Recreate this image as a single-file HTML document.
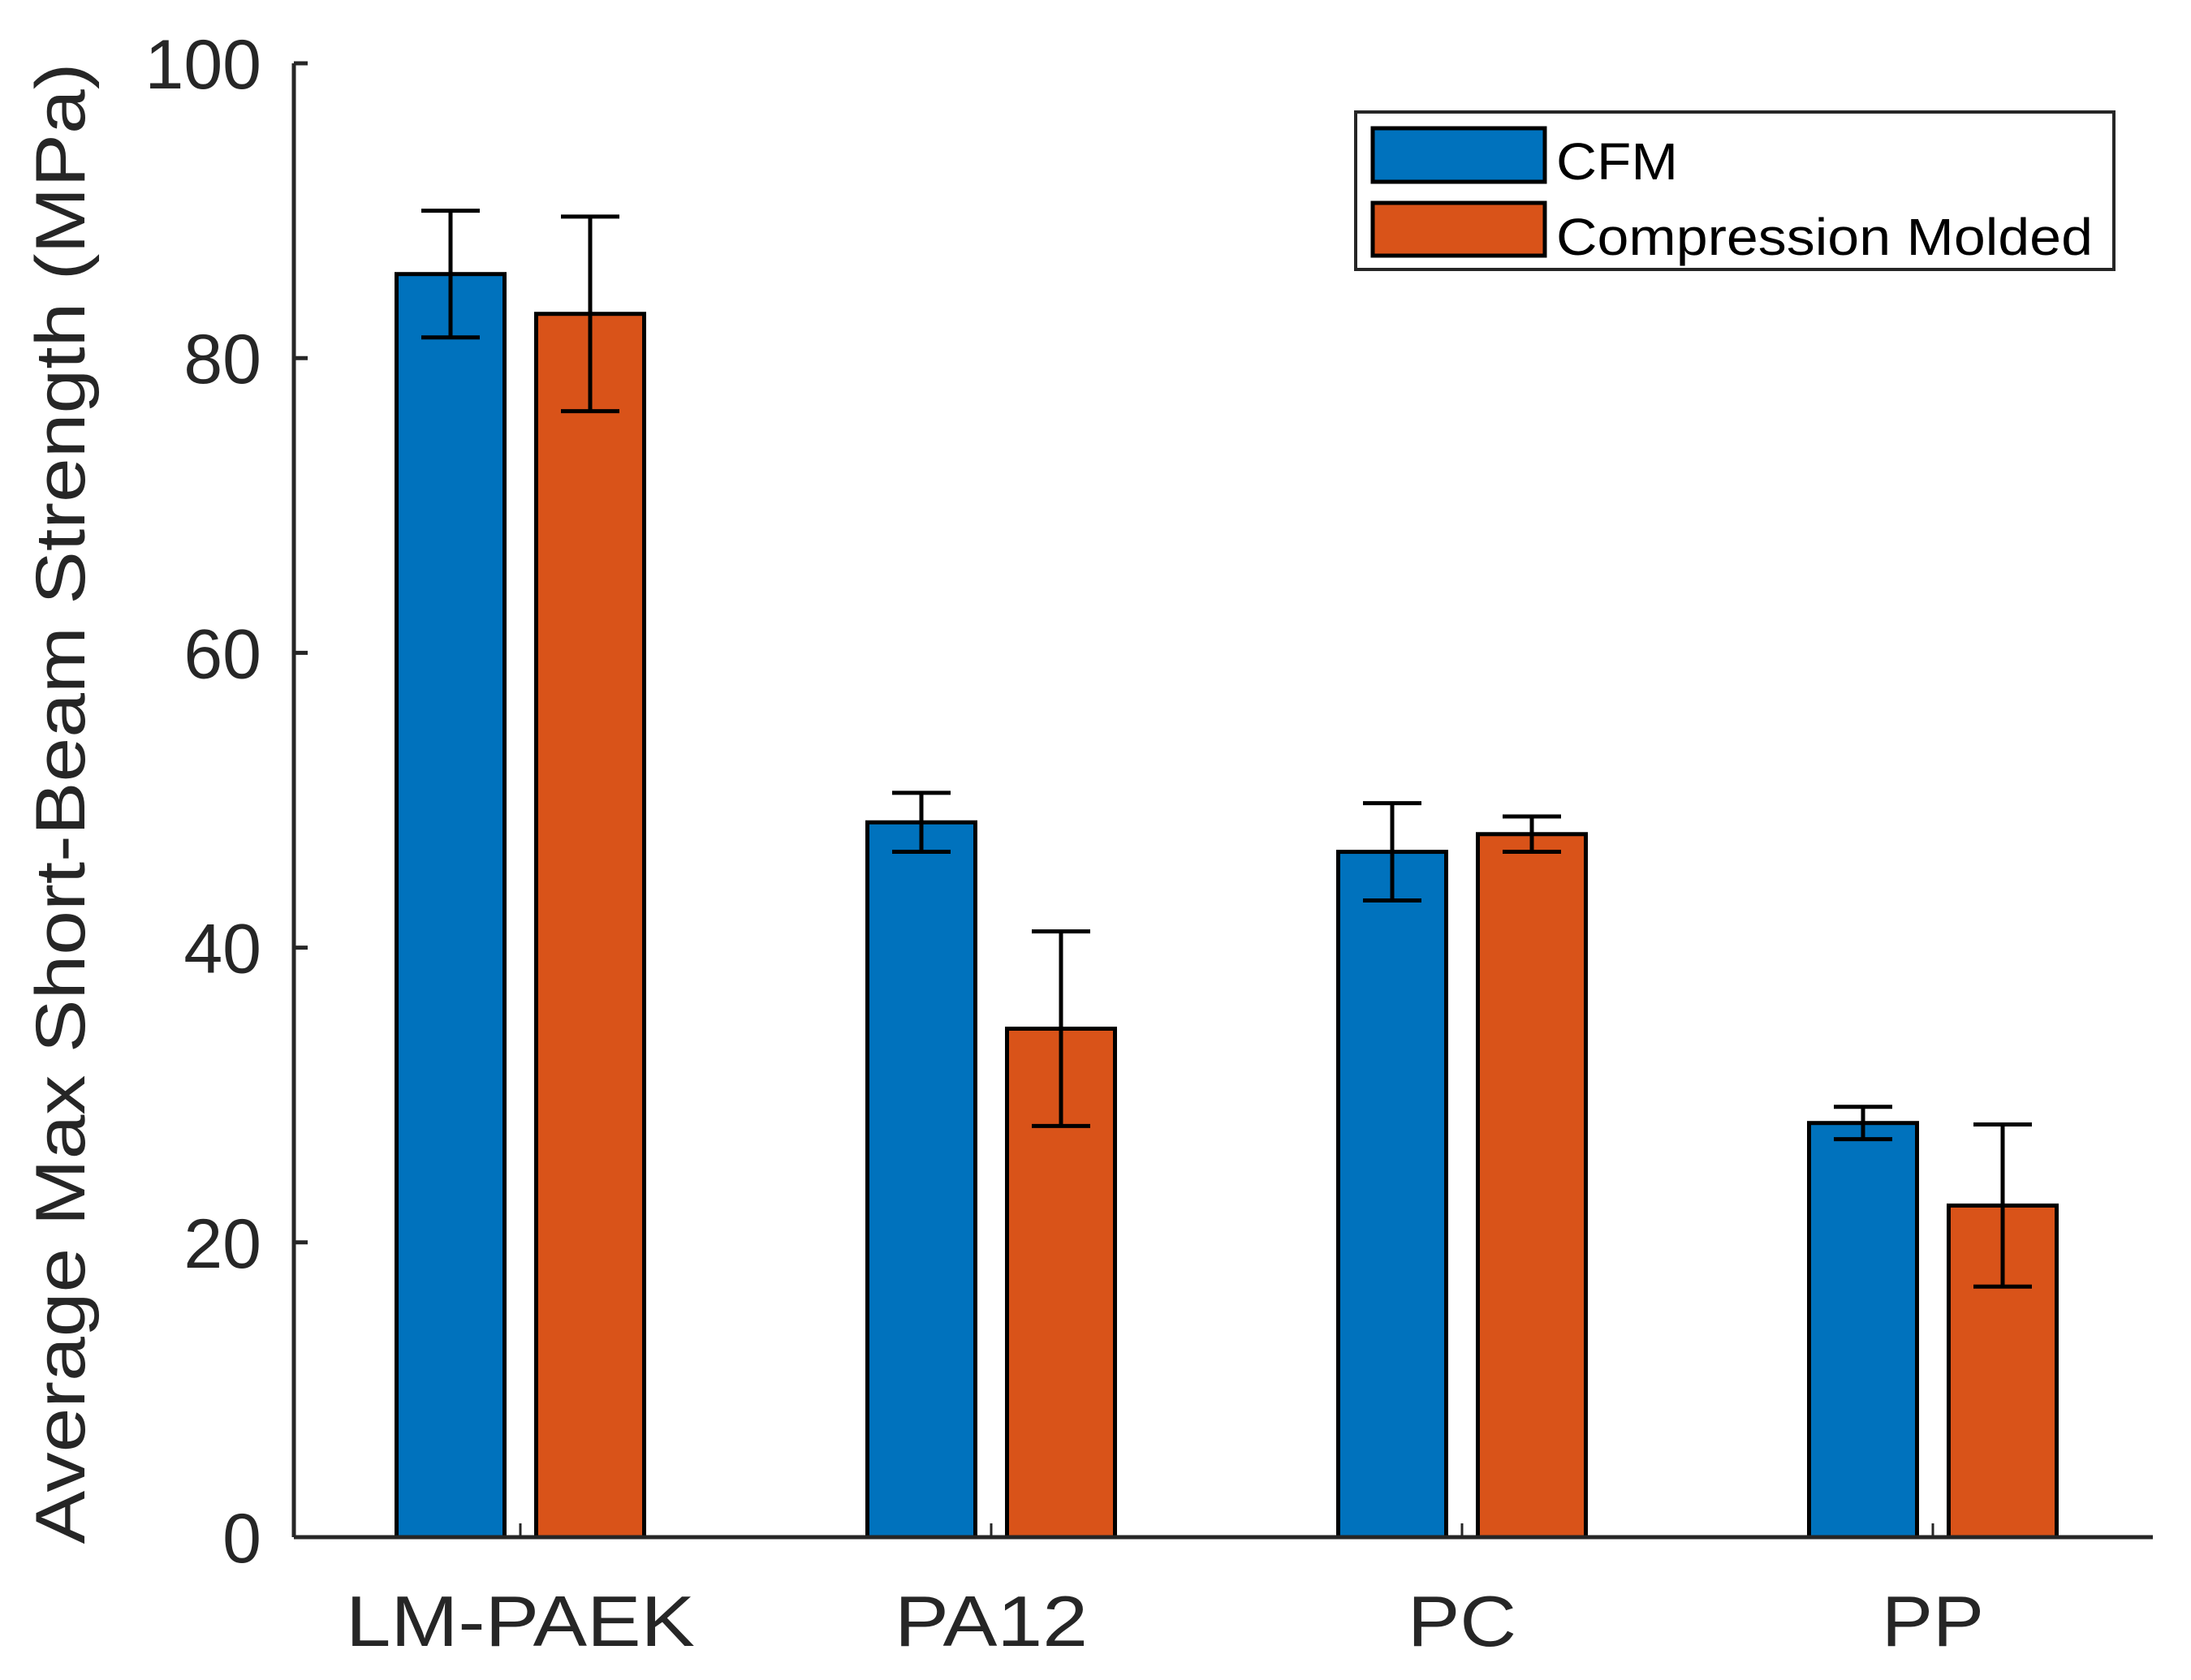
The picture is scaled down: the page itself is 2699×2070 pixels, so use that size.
<!DOCTYPE html>
<html><head><meta charset="utf-8"><style>html,body{margin:0;padding:0;background:#fff}svg{display:block}</style></head>
<body>
<svg id="chart" xmlns="http://www.w3.org/2000/svg" width="2699" height="2070" viewBox="0 0 2699 2070" font-family="Liberation Sans, sans-serif">
<rect width="2699" height="2070" fill="#fff"/>
<g id="bars"></g>
<g id="axes"></g>
<text transform="translate(104,990) rotate(-90)" text-anchor="middle" font-size="86" textLength="1825" lengthAdjust="spacingAndGlyphs" fill="#262626">Average Max Short-Beam Strength (MPa)</text>
<g>
<rect x="1670" y="138" width="934" height="194" fill="#fff" stroke="#262626" stroke-width="4"/>
<rect x="1691" y="158" width="212" height="66" fill="#0072BD" stroke="#000" stroke-width="5"/>
<text x="1917" y="221" font-size="64" textLength="150" lengthAdjust="spacingAndGlyphs" fill="#000">CFM</text>
<rect x="1691" y="250" width="212" height="65" fill="#D95319" stroke="#000" stroke-width="5"/>
<text x="1917" y="314" font-size="64" textLength="661" lengthAdjust="spacingAndGlyphs" fill="#000">Compression Molded</text>
</g>
<script>
const categories=["LM-PAEK","PA12","PC","PP"];
const cfmValues=[85.7,48.5,46.5,28.1];
const cfmErrors=[4.3,2.0,3.3,1.1];
const cmValues=[83.0,34.5,47.7,22.5];
const cmErrors=[6.6,6.6,1.2,5.5];
const yTicks=[0,20,40,60,80,100];
const NS="http://www.w3.org/2000/svg";
const X0=362,X1=2652,Y0=1894,Y1=78;
const labelW=[430,238,134,126];
function yScale(v){return Y0-(v/100)*(Y0-Y1);}
function xCenter(i){return 641+i*580;}
function mk(tag,attrs,parent){const e=document.createElementNS(NS,tag);for(const k in attrs)e.setAttribute(k,attrs[k]);parent.appendChild(e);return e;}
const bars=document.getElementById('bars'),axes=document.getElementById('axes');
const bw=133,off=86,cap=36;
function drawSeries(vals,errs,dx,color,name){
 vals.forEach((v,i)=>{
  const cx=xCenter(i)+dx;
  const r=mk('rect',{x:cx-bw/2,y:yScale(v),width:bw,height:Y0-yScale(v),fill:color,stroke:'#000','stroke-width':5},bars);
  
  
  const g=mk('g',{stroke:'#000','stroke-width':5},bars);
  
  
  const hi=yScale(v+errs[i]),lo=yScale(v-errs[i]);
  mk('line',{x1:cx,x2:cx,y1:hi,y2:lo},g);
  mk('line',{x1:cx-cap,x2:cx+cap,y1:hi,y2:hi},g);
  mk('line',{x1:cx-cap,x2:cx+cap,y1:lo,y2:lo},g);
 });
}
drawSeries(cfmValues,cfmErrors,-off,'#0072BD','cfm');
drawSeries(cmValues,cmErrors,off,'#D95319','compression-molded');
const ax=mk('line',{x1:X0,y1:Y1,x2:X0,y2:Y0,stroke:'#262626','stroke-width':5},axes);


const bx=mk('line',{x1:X0,y1:Y0,x2:X1,y2:Y0,stroke:'#262626','stroke-width':5},axes);


yTicks.forEach(t=>{
 const y=yScale(t);
 mk('line',{x1:X0,x2:X0+17,y1:y,y2:y,stroke:'#262626','stroke-width':5},axes);
 const tx=mk('text',{x:322,y:y+31,'text-anchor':'end','font-size':86,fill:'#262626'},axes);
 tx.textContent=t;
 
 
});
categories.forEach((c,i)=>{
 const x=xCenter(i);
 mk('line',{x1:x,x2:x,y1:Y0,y2:Y0-17,stroke:'#262626','stroke-width':3},axes);
 const tx=mk('text',{x:x,y:2028,'text-anchor':'middle','font-size':88,textLength:labelW[i],lengthAdjust:'spacingAndGlyphs',fill:'#262626'},axes);
 tx.textContent=c;
 
 
});
</script>
</svg>
</body></html>
